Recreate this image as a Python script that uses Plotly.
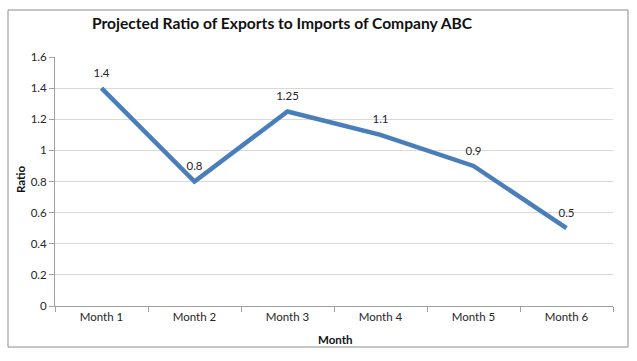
import plotly.graph_objects as go

months = ["Month 1", "Month 2", "Month 3", "Month 4", "Month 5", "Month 6"]
ratios = [1.4, 0.8, 1.25, 1.1, 0.9, 0.5]
labels = ["1.4", "0.8", "1.25", "1.1", "0.9", "0.5"]
yticks = [0, 0.2, 0.4, 0.6, 0.8, 1, 1.2, 1.4, 1.6]
ytick_text = ["0", "0.2", "0.4", "0.6", "0.8", "1", "1.2", "1.4", "1.6"]

L, R, T, B = 55, 24, 57, 55
W, H = 637, 361
pw, ph = W - L - R, H - T - B

def px(x):
    return (x - L) / pw

def py(y):
    return (H - B - y) / ph

fig = go.Figure()
fig.add_trace(go.Scatter(
    x=months, y=ratios, mode="lines+markers+text", text=labels,
    textposition="top center", textfont=dict(size=11.5, color="#262626", family="Lato"),
    marker=dict(size=12, color="rgba(0,0,0,0)"),
    line=dict(color="#4a7ebb", width=4.5), hoverinfo="skip", cliponaxis=False,
))

fig.update_layout(
    template="none",
    width=W, height=H, margin=dict(l=L, r=R, t=T, b=B, autoexpand=False),
    paper_bgcolor="white", plot_bgcolor="white", showlegend=False,
    font=dict(family="Lato", size=11.5, color="#262626"),
    title=dict(text="<b>Projected Ratio of Exports to Imports of Company ABC</b>",
               xref="container", x=282 / W, xanchor="center",
               yref="container", y=1 - 24 / H, yanchor="middle",
               font=dict(size=15.6, color="#111", family="Lato")),
    xaxis=dict(showgrid=False, showline=True, linecolor="#a0a0a0", linewidth=1,
               ticks="outside", tickcolor="#a0a0a0", ticklen=5, tickson="boundaries",
               tickfont=dict(size=11.5), range=[-0.5, 5.5], automargin=False, zeroline=False),
    yaxis=dict(range=[0, 1.6], tickvals=yticks, ticktext=ytick_text,
               showgrid=True, gridcolor="#d9d9d9", gridwidth=1,
               showline=True, linecolor="#a0a0a0", linewidth=1,
               ticks="outside", tickcolor="#a0a0a0", ticklen=5,
               tickfont=dict(size=11.5), zeroline=False, automargin=False),
    shapes=[dict(type="rect", xref="paper", yref="paper",
                 x0=px(8), x1=px(628), y0=py(347), y1=py(10),
                 line=dict(color="#8c8c8c", width=1), fillcolor="rgba(0,0,0,0)")],
    annotations=[
        dict(text="<b>Month</b>", xref="paper", yref="paper", x=px(335), y=py(339),
             showarrow=False, font=dict(size=11.5, color="#111"), xanchor="center", yanchor="middle"),
        dict(text="<b>Ratio</b>", xref="paper", yref="paper", x=px(20), y=py(180),
             showarrow=False, textangle=-90, font=dict(size=11.5, color="#111"),
             xanchor="center", yanchor="middle"),
    ],
)

fig.write_html("out.html", config={"displayModeBar": False},
               post_script="document.body.style.margin='0';")
